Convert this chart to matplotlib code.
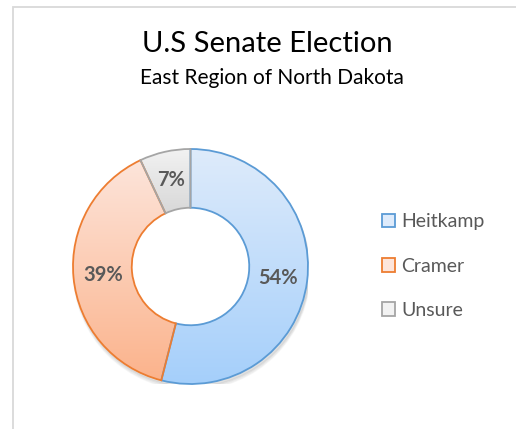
import numpy as np
import matplotlib.pyplot as plt
from matplotlib.patches import Rectangle, Patch
from matplotlib.colors import LinearSegmentedColormap

candidates = ['Heitkamp', 'Cramer', 'Unsure']
shares = [54, 39, 7]
pct_labels = ['54%', '39%', '7%']
edge_colors = ['#5B9BD5', '#ED7D31', '#A5A5A5']
top_colors = ['#DEEBFB', '#FDE5DB', '#F2F2F2']
bottom_colors = ['#A5CFFA', '#FBB38C', '#D8D8D8']

plt.rcParams['font.family'] = ['Lato', 'DejaVu Sans']

W, H = 516, 429
fig = plt.figure(figsize=(W / 100, H / 100), dpi=100)

# chart frame (runs off the right and bottom edge)
fig.patches.append(Rectangle((12.5 / W, -0.1), 1.2, 1 - 7.5 / H + 0.1,
                             transform=fig.transFigure, fill=False,
                             edgecolor='#D9D9D9', linewidth=1.3))

fig.text(267 / W, 1 - 44 / H, 'U.S Senate Election', ha='center', va='center',
         fontsize=21, color='#000000')
fig.text(272 / W, 1 - 78 / H, 'East Region of North Dakota', ha='center',
         va='center', fontsize=15, color='#000000')

cx, cy, r = 190.5, 266.5, 117.5
ax = fig.add_axes([(cx - r) / W, (H - cy - r) / H, 2 * r / W, 2 * r / H])
ax.set_xlim(-1, 1)
ax.set_ylim(-1, 1)
ax.axis('off')

# soft shadow under the ring
for i, a in enumerate([0.05, 0.04, 0.03]):
    sh = plt.Circle((0.01, -0.025 - i * 0.008), 1.0 + i * 0.004, color='#000000',
                    alpha=a, zorder=0)
    ax.add_patch(sh)
ax.add_patch(plt.Circle((0, 0), 0.5, color='white', zorder=0.5))

wedges, _ = ax.pie(shares, radius=1, startangle=90, counterclock=False,
                   colors=top_colors,
                   wedgeprops=dict(width=0.5, linewidth=1.3, zorder=1))
for w, ec, c0, c1 in zip(wedges, edge_colors, top_colors, bottom_colors):
    w.set_edgecolor(ec)
    w.set_zorder(2)
    bb = w.get_path().get_extents()
    cmap = LinearSegmentedColormap.from_list('g', [c0, c1])
    grad = np.linspace(0, 1, 256).reshape(-1, 1)
    im = ax.imshow(grad, cmap=cmap, extent=[bb.x0, bb.x1, bb.y0, bb.y1],
                   origin='upper', aspect='auto', zorder=1.5)
    im.set_clip_path(w)
    w.set_facecolor('none')
ax.set_xlim(-1, 1)
ax.set_ylim(-1, 1)

total = sum(shares)
start = 90
for s, lab in zip(shares, pct_labels):
    mid = np.deg2rad(start - s / total * 180)
    start -= s / total * 360
    ax.text(0.75 * np.cos(mid), 0.75 * np.sin(mid), lab, ha='center',
            va='center', fontsize=14.5, fontweight='bold', color='#595959',
            zorder=5)

handles = [Patch(facecolor=c0, edgecolor=ec, linewidth=1.3)
           for c0, ec in zip(top_colors, edge_colors)]
fig.legend(handles, candidates, loc='center left',
           bbox_to_anchor=(364 / W, 1 - 266 / H), frameon=False,
           fontsize=14, labelcolor='#595959', handlelength=0.7,
           handleheight=0.7, handletextpad=0.3, labelspacing=1.4)

fig.savefig('out.png', dpi=100)
